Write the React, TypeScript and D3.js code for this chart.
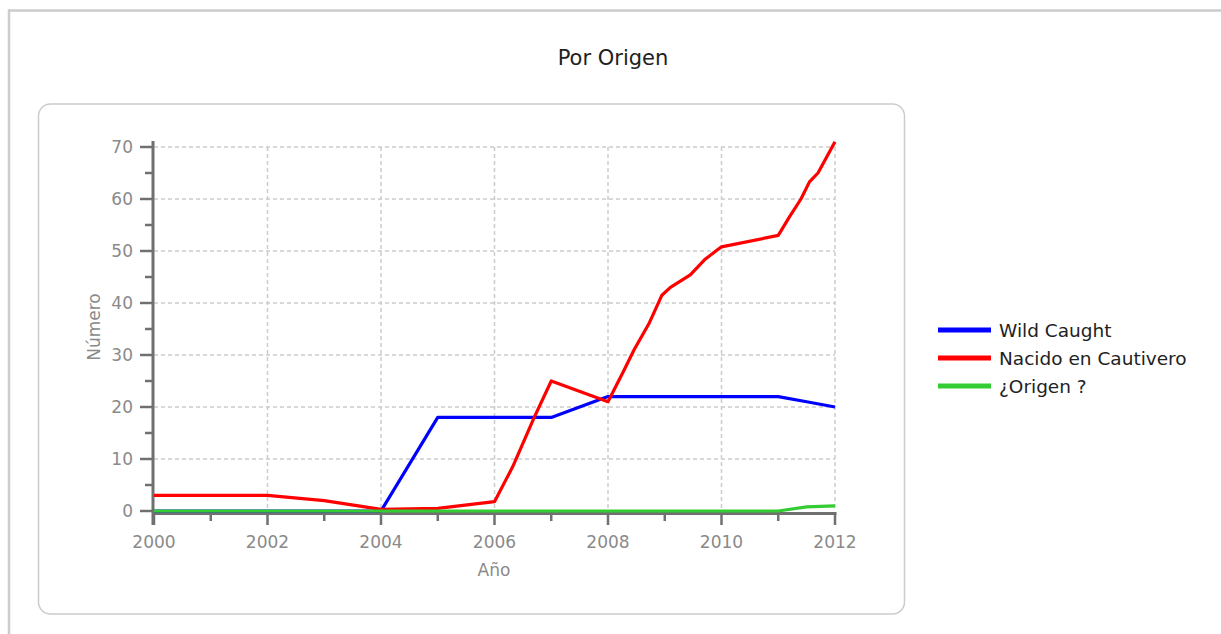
import * as d3 from "d3";

// series data (fractional years are visible kinks)
const wildYears = [2000, 2001, 2002, 2003, 2004, 2005, 2006, 2007, 2008, 2009, 2010, 2011, 2011.5, 2012];
const wildValues = [0, 0, 0, 0, 0, 18, 18, 18, 22, 22, 22, 22, 21, 20];

const captiveYears = [
  2000, 2001, 2002, 2003, 2004, 2005, 2006, 2006.32, 2006.7, 2007, 2008, 2008.28, 2008.46, 2008.72,
  2008.95, 2009.1, 2009.45, 2009.7, 2009.9, 2010, 2011, 2011.2, 2011.4, 2011.55, 2011.7, 2012,
];
const captiveValues = [
  3, 3, 3, 2, 0.3, 0.5, 1.8, 8.5, 18, 25, 21, 27, 31, 36, 41.5, 43, 45.4, 48.3, 50, 50.8, 53, 56.6, 60,
  63.3, 65, 71,
];

const unknownYears = [2000, 2001, 2002, 2003, 2004, 2005, 2006, 2007, 2008, 2009, 2010, 2011, 2011.5, 2012];
const unknownValues = [0, 0, 0, 0, 0, 0, 0, 0, 0, 0, 0, 0, 0.8, 1];

const seriesNames = ["Wild Caught", "Nacido en Cautivero", "¿Origen ?"];
const seriesColors = ["#0000ff", "#ff0000", "#33cc33"];

const xTickLabels = [2000, 2002, 2004, 2006, 2008, 2010, 2012];
const yTickLabels = [0, 10, 20, 30, 40, 50, 60, 70];

const FONT = "'DejaVu Sans', Verdana, sans-serif";

export default function App() {
  const x = d3.scaleLinear().domain([2000, 2012]).range([154, 835]);
  const y = d3.scaleLinear().domain([0, 70]).range([511, 147]);

  const line = d3
    .line<[number, number]>()
    .x((d) => x(d[0]))
    .y((d) => y(d[1]))
    .curve(d3.curveLinear);

  const series = [
    wildYears.map((yr, i) => [yr, wildValues[i]] as [number, number]),
    captiveYears.map((yr, i) => [yr, captiveValues[i]] as [number, number]),
    unknownYears.map((yr, i) => [yr, unknownValues[i]] as [number, number]),
  ];

  const yearTicks = d3.range(2000, 2013);
  const minorY = d3.range(0, 71, 5);
  const axisColor = "#707070";
  const labelColor = "#8a8a8a";

  return (
    <svg
      width={1221}
      height={634}
      style={{ position: "absolute", left: 0, top: 0, background: "#fff", overflow: "hidden" }}
      fontFamily={FONT}
    >
      {/* outer frame */}
      <rect x={9} y={10.5} width={1300} height={700} fill="none" stroke="#cccccc" strokeWidth={2.5} />
      <text x={613} y={65} textAnchor="middle" fontSize={21} fill="#222">
        Por Origen
      </text>

      {/* inner rounded panel */}
      <rect x={38.5} y={104} width={866} height={510} rx={12} fill="#fff" stroke="#cccccc" strokeWidth={1.5} />

      {/* grid */}
      <g stroke="#cccccc" strokeWidth={1.5} strokeDasharray="4,3">
        {yTickLabels.slice(1).map((v) => (
          <line key={"h" + v} x1={x(2000)} x2={x(2012)} y1={y(v)} y2={y(v)} />
        ))}
        {xTickLabels.slice(1).map((v) => (
          <line key={"v" + v} x1={x(v)} x2={x(v)} y1={y(70)} y2={y(0)} />
        ))}
      </g>

      {/* y axis */}
      <g stroke={axisColor} strokeWidth={2.5}>
        <line x1={x(2000) - 1} x2={x(2000) - 1} y1={y(70) - 6} y2={525} strokeWidth={3} />
        {minorY.map((v) => (
          <line key={"yt" + v} x1={v % 10 === 0 ? 140 : 145} x2={x(2000)} y1={y(v)} y2={y(v)} />
        ))}
      </g>
      <g fill={labelColor} fontSize={17} textAnchor="end">
        {yTickLabels.map((v) => (
          <text key={"yl" + v} x={133} y={y(v)} dy="0.36em">
            {v}
          </text>
        ))}
      </g>
      <text
        transform={`translate(${100},${327}) rotate(-90)`}
        textAnchor="middle"
        fontSize={17}
        fill={labelColor}
      >
        Número
      </text>

      {/* x axis */}
      <g stroke={axisColor} strokeWidth={2.5}>
        <line x1={x(2000) - 2} x2={x(2012) + 1.5} y1={513.5} y2={513.5} strokeWidth={3} />
        {yearTicks.map((v) => (
          <line key={"xt" + v} x1={x(v)} x2={x(v)} y1={513} y2={v % 2 === 0 ? 525 : 521} />
        ))}
      </g>
      <g fill={labelColor} fontSize={17} textAnchor="middle">
        {xTickLabels.map((v) => (
          <text key={"xl" + v} x={x(v)} y={548}>
            {v}
          </text>
        ))}
      </g>
      <text x={494} y={576} textAnchor="middle" fontSize={17} fill={labelColor}>
        Año
      </text>

      {/* lines */}
      {series.map((s, i) => (
        <path
          key={seriesNames[i]}
          d={line(s) || ""}
          fill="none"
          stroke={seriesColors[i]}
          strokeWidth={3.2}
          strokeLinejoin="round"
        />
      ))}

      {/* legend */}
      {seriesNames.map((name, i) => (
        <g key={"lg" + i} transform={`translate(938,${330 + i * 28})`}>
          <line x1={0} x2={53} y1={0} y2={0} stroke={seriesColors[i]} strokeWidth={5} />
          <text x={61} y={0} dy="0.36em" fontSize={18.5} fill="#222">
            {name}
          </text>
        </g>
      ))}
    </svg>
  );
}
